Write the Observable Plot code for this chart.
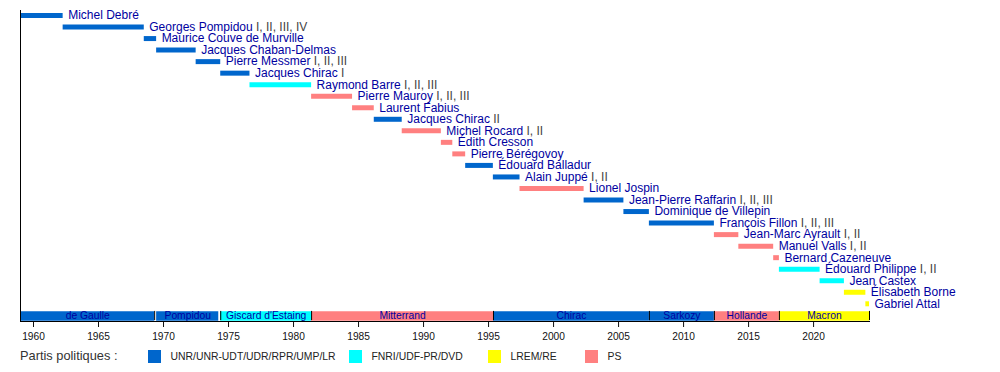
<!DOCTYPE html>
<html>
<head>
<meta charset="utf-8">
<script src="https://cdn.jsdelivr.net/npm/d3@7"></script>
<script src="https://cdn.jsdelivr.net/npm/@observablehq/plot@0.6"></script>
<style>
  html, body { margin: 0; padding: 0; background: #fff; }
  #wrap { width: 1000px; height: 372px; position: relative; font-family: "Liberation Sans", Arial, sans-serif; }
  #legend { position: relative; width: 1000px; height: 27px; color: #222; }
  #legend .t { position: absolute; white-space: nowrap; line-height: 1; }
  #legend .sw { position: absolute; width: 13px; height: 13px; }
</style>
</head>
<body>
<div id="wrap">
  <div id="chart"></div>
  <div id="legend"></div>
</div>
<script>
// ---- Data ----
const pmNames = ["Michel Debré", "Georges Pompidou", "Maurice Couve de Murville", "Jacques Chaban-Delmas",
  "Pierre Messmer", "Jacques Chirac", "Raymond Barre", "Pierre Mauroy", "Laurent Fabius", "Jacques Chirac",
  "Michel Rocard", "Édith Cresson", "Pierre Bérégovoy", "Édouard Balladur", "Alain Juppé", "Lionel Jospin",
  "Jean-Pierre Raffarin", "Dominique de Villepin", "François Fillon", "Jean-Marc Ayrault", "Manuel Valls",
  "Bernard Cazeneuve", "Édouard Philippe", "Jean Castex", "Élisabeth Borne", "Gabriel Attal"];
const pmNumerals = ["", "I, II, III, IV", "", "", "I, II, III", "I", "I, II, III", "I, II, III", "", "II",
  "I, II", "", "", "", "I, II", "", "I, II, III", "", "I, II, III", "I, II", "I, II", "", "I, II", "", "", ""];
const pmStart = [1959.02, 1962.28, 1968.52, 1969.47, 1972.51, 1974.40, 1976.65, 1981.39, 1984.54, 1986.21,
  1988.36, 1991.37, 1992.25, 1993.24, 1995.37, 1997.42, 2002.35, 2005.41, 2007.37, 2012.37, 2014.25,
  2016.93, 2017.37, 2020.50, 2022.37, 2024.02];
const pmEnd = [1962.28, 1968.52, 1969.47, 1972.51, 1974.40, 1976.65, 1981.39, 1984.54, 1986.21, 1988.36,
  1991.37, 1992.25, 1993.24, 1995.37, 1997.42, 2002.35, 2005.41, 2007.37, 2012.37, 2014.25, 2016.93,
  2017.37, 2020.50, 2022.37, 2024.02, 2024.30];
const pmParty = ["UNR", "UNR", "UNR", "UNR", "UNR", "UNR", "FNRI", "PS", "PS", "UNR", "PS", "PS", "PS",
  "UNR", "UNR", "PS", "UNR", "UNR", "UNR", "PS", "PS", "PS", "FNRI", "FNRI", "LREM", "LREM"];

const presNames = ["de Gaulle", "Pompidou", "Giscard d'Estaing", "Mitterrand", "Chirac", "Sarkozy", "Hollande", "Macron"];
const presStart = [1959.02, 1969.47, 1974.40, 1981.39, 1995.38, 2007.37, 2012.37, 2017.37];
const presEnd   = [1969.32, 1974.25, 1981.39, 1995.38, 2007.37, 2012.37, 2017.37, 2024.30];
const presParty = ["UNR", "UNR", "FNRI", "PS", "UNR", "UNR", "PS", "LREM"];
const presDividers = [1969.32, 1974.40, 1981.39, 1995.38, 2007.37, 2012.37, 2017.37, 2024.30];

const partyKeys = ["UNR", "FNRI", "LREM", "PS"];
const partyLabels = ["UNR/UNR-UDT/UDR/RPR/UMP/LR", "FNRI/UDF-PR/DVD", "LREM/RE", "PS"];
const legendTitle = "Partis politiques :";
const xDomain = [1959, 2024.3];
const xTicks = [1960, 1965, 1970, 1975, 1980, 1985, 1990, 1995, 2000, 2005, 2010, 2015, 2020];

// ---- Styles ----
const partyColors = ["#0066cc", "#00ffff", "#ffff00", "#ff8080"];
const nameColor = "#0000a0";
const numColor = "#444";
const presRow = 26.06;
const legendX = [148, 349, 488, 585];

const pms = pmNames.map((name, i) => ({row: i, name, num: pmNumerals[i], start: pmStart[i], end: pmEnd[i], party: pmParty[i]}));
const pres = presNames.map((name, i) => ({name, start: presStart[i], end: presEnd[i], party: presParty[i]}));

const chart = Plot.plot({
  width: 1000,
  height: 345,
  marginLeft: 20,
  marginRight: 131,
  marginTop: 10,
  marginBottom: 24,
  style: {fontFamily: "'Liberation Sans', Arial, sans-serif", fontSize: "10.2px", background: "white", color: "#111"},
  x: {domain: xDomain, ticks: xTicks, tickFormat: d => String(d), tickSize: 6, tickPadding: 5, label: null},
  y: {domain: [0, 25], range: [15, 303.3], axis: null},
  color: {domain: partyKeys, range: partyColors},
  marks: [
    Plot.ruleY(pms, {y: "row", x1: "start", x2: "end", stroke: "party", strokeWidth: 5}),
    Plot.text(pms, {x: "end", y: "row", text: d => d.name, dx: 5, textAnchor: "start", fill: nameColor, fontSize: 12, className: "pm-label"}),
    Plot.ruleY(pres, {y: () => presRow, x1: "start", x2: "end", stroke: "party", strokeWidth: 9.5}),
    Plot.ruleX(presDividers, {x: d => d, y1: presRow - 0.4, y2: presRow + 0.4, stroke: "black", strokeWidth: 1}),
    Plot.text(pres, {x: d => (d.start + d.end) / 2, y: () => presRow, text: "name", fill: nameColor, fontSize: 10.3}),
    Plot.ruleX([xDomain[0]], {stroke: "black", strokeWidth: 1}),
    Plot.frame({anchor: "bottom", stroke: "black", strokeOpacity: 1})
  ]
});
document.getElementById("chart").appendChild(chart);

// Two-colour PM labels: name in blue, government numerals in grey
d3.select(chart).selectAll("g.pm-label text").each(function(_, i) {
  const d = pms[i];
  const t = d3.select(this);
  t.text(null);
  t.append("tspan").text(d.name);
  if (d.num) t.append("tspan").attr("fill", numColor).text(" " + d.num);
});

// Legend
const legend = document.getElementById("legend");
const title = document.createElement("div");
title.className = "t";
title.style.left = "20px";
title.style.top = "5px";
title.style.fontSize = "12.8px";
title.style.color = "#333";
title.textContent = legendTitle;
legend.appendChild(title);
partyKeys.forEach((k, i) => {
  const sw = document.createElement("div");
  sw.className = "sw";
  sw.style.left = legendX[i] + "px";
  sw.style.top = "5px";
  sw.style.background = partyColors[i];
  legend.appendChild(sw);
  const t = document.createElement("div");
  t.className = "t";
  t.style.left = (legendX[i] + 22.5) + "px";
  t.style.top = "6.5px";
  t.style.fontSize = "10.4px";
  t.style.color = "#222";
  t.textContent = partyLabels[i];
  legend.appendChild(t);
});
</script>
</body>
</html>
